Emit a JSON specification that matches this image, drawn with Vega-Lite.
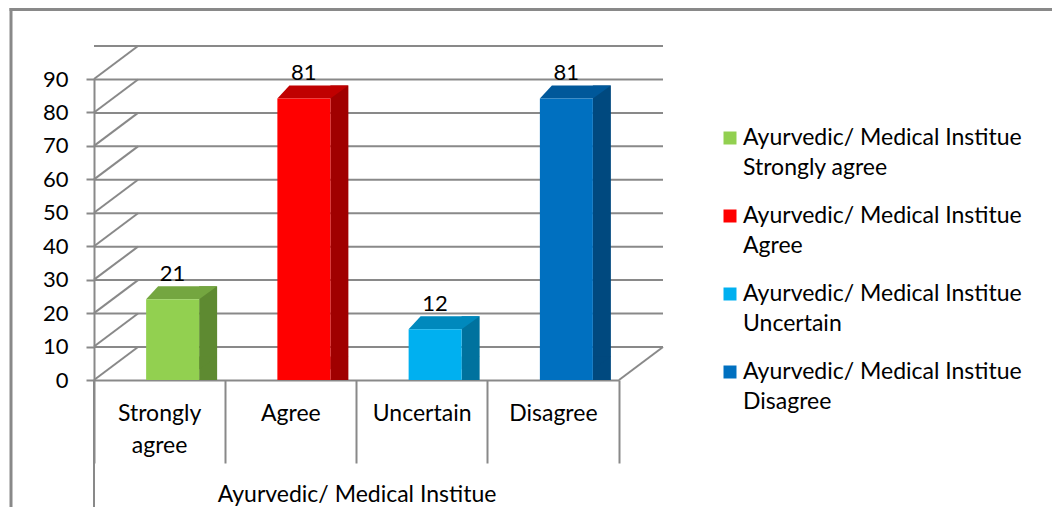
{
  "$schema": "https://vega.github.io/schema/vega-lite/v6.json",
  "width": 525,
  "height": 301,
  "autosize": {"type": "none"},
  "padding": {"left": 94, "top": 79, "right": 433, "bottom": 127},
  "background": "white",
  "config": {
    "view": {"stroke": null},
    "font": "Lato",
    "style": {"guide-label": {"lineHeight": 30}},
    "axisX": {
      "labelAngle": 0, "labelAlign": "center", "labelBaseline": "top",
      "labelFont": "Lato", "labelFontSize": 23, "labelColor": "black",
      "labelLineHeight": 32, "labelPadding": -61,
      "bandPosition": 1, "tickExtra": true, "tickSize": 83,
      "tickColor": "#898989", "tickWidth": 2,
      "domainColor": "#898989", "domainWidth": 2, "grid": false,
      "titleFont": "Lato", "titleFontSize": 23, "titleFontWeight": "normal", "titleColor": "black"
    },
    "axisY": {
      "grid": false,
      "domainColor": "#898989", "domainWidth": 2,
      "tickColor": "#898989", "tickWidth": 2, "tickSize": 8,
      "labelFont": "Lato", "labelFontSize": 22, "labelColor": "black",
      "labelPadding": 18, "labelFlush": false, "labelOverlap": false
    }
  },
  "datasets": {
    "responses": [
      {"category": "Strongly agree", "count": 21},
      {"category": "Agree", "count": 81},
      {"category": "Uncertain", "count": 12},
      {"category": "Disagree", "count": 81}
    ],
    "ticks": [
      {"tick": 0}, {"tick": 10}, {"tick": 20}, {"tick": 30}, {"tick": 40},
      {"tick": 50}, {"tick": 60}, {"tick": 70}, {"tick": 80}, {"tick": 90}
    ]
  },
  "layer": [
    {
      "data": {"values": [{}]},
      "mark": {"type": "rule", "color": "#898989", "strokeWidth": 3, "yOffset": -69.5, "xOffset": -84.5, "x2Offset": 600},
      "encoding": {
        "x": {"datum": "Strongly agree", "type": "nominal", "bandPosition": 0, "scale": {"domain": ["Strongly agree", "Agree", "Uncertain", "Disagree"], "paddingInner": 0, "paddingOuter": 0}, "axis": {"title": "Ayurvedic/ Medical Institue", "titleY": 114, "titleBaseline": "middle", "labelExpr": "datum.label == 'Strongly agree' ? ['Strongly', 'agree'] : datum.label"}},
        "x2": {"datum": "Disagree"},
        "y": {"datum": 90, "type": "quantitative", "scale": {"domain": [0, 90], "nice": false}, "axis": {"values": [0, 10, 20, 30, 40, 50, 60, 70, 80, 90], "title": null}}
      }
    },
    {
      "data": {"values": [{}]},
      "mark": {"type": "rule", "color": "#898989", "strokeWidth": 3, "xOffset": -83, "yOffset": -71, "y2Offset": 200},
      "encoding": {
        "x": {"datum": "Strongly agree", "type": "nominal", "bandPosition": 0, "scale": {"domain": ["Strongly agree", "Agree", "Uncertain", "Disagree"], "paddingInner": 0, "paddingOuter": 0}, "axis": {"title": "Ayurvedic/ Medical Institue", "titleY": 114, "titleBaseline": "middle", "labelExpr": "datum.label == 'Strongly agree' ? ['Strongly', 'agree'] : datum.label"}},
        "y": {"datum": 90, "type": "quantitative", "scale": {"domain": [0, 90], "nice": false}, "axis": {"values": [0, 10, 20, 30, 40, 50, 60, 70, 80, 90], "title": null}},
        "y2": {"datum": 0}
      }
    },
    {
      "data": {"name": "ticks"},
      "mark": {"type": "rule", "color": "#898989", "strokeWidth": 2, "xOffset": 44, "x2Offset": 44, "yOffset": -33, "y2Offset": -33},
      "encoding": {
        "y": {"field": "tick", "type": "quantitative", "scale": {"domain": [0, 90], "nice": false}, "axis": {"values": [0, 10, 20, 30, 40, 50, 60, 70, 80, 90], "title": null}}
      }
    },
    {
      "data": {"name": "ticks"},
      "mark": {"type": "point", "shape": "M0,0 L44,-33", "size": 4, "filled": false, "stroke": "#898989", "strokeWidth": 2, "opacity": 1},
      "encoding": {
        "x": {"datum": "Strongly agree", "type": "nominal", "bandPosition": 0, "scale": {"domain": ["Strongly agree", "Agree", "Uncertain", "Disagree"], "paddingInner": 0, "paddingOuter": 0}, "axis": {"title": "Ayurvedic/ Medical Institue", "titleY": 114, "titleBaseline": "middle", "labelExpr": "datum.label == 'Strongly agree' ? ['Strongly', 'agree'] : datum.label"}},
        "y": {"field": "tick", "type": "quantitative", "scale": {"domain": [0, 90], "nice": false}, "axis": {"values": [0, 10, 20, 30, 40, 50, 60, 70, 80, 90], "title": null}}
      }
    },
    {
      "data": {"values": [{}]},
      "mark": {"type": "point", "shape": "M0,0 L44,-33", "size": 4, "filled": false, "stroke": "#898989", "strokeWidth": 2, "opacity": 1},
      "encoding": {
        "x": {"datum": "Disagree", "type": "nominal", "bandPosition": 1, "scale": {"domain": ["Strongly agree", "Agree", "Uncertain", "Disagree"], "paddingInner": 0, "paddingOuter": 0}, "axis": {"title": "Ayurvedic/ Medical Institue", "titleY": 114, "titleBaseline": "middle", "labelExpr": "datum.label == 'Strongly agree' ? ['Strongly', 'agree'] : datum.label"}},
        "y": {"datum": 0, "type": "quantitative", "scale": {"domain": [0, 90], "nice": false}, "axis": {"values": [0, 10, 20, 30, 40, 50, 60, 70, 80, 90], "title": null}}
      }
    },
    {
      "data": {"values": [{}]},
      "mark": {"type": "rule", "color": "#898989", "strokeWidth": 2, "y2Offset": 200},
      "encoding": {
        "x": {"datum": "Strongly agree", "type": "nominal", "bandPosition": 0, "scale": {"domain": ["Strongly agree", "Agree", "Uncertain", "Disagree"], "paddingInner": 0, "paddingOuter": 0}, "axis": {"title": "Ayurvedic/ Medical Institue", "titleY": 114, "titleBaseline": "middle", "labelExpr": "datum.label == 'Strongly agree' ? ['Strongly', 'agree'] : datum.label"}},
        "y": {"datum": 0, "type": "quantitative", "scale": {"domain": [0, 90], "nice": false}, "axis": {"values": [0, 10, 20, 30, 40, 50, 60, 70, 80, 90], "title": null}},
        "y2": {"datum": 0}
      }
    },
    {
      "data": {"name": "responses"},
      "mark": {"type": "bar", "size": 18, "xOffset": 48.5, "yOffset": -23.5, "y2Offset": -23.5, "opacity": 1},
      "encoding": {
        "x": {"field": "category", "type": "nominal", "scale": {"domain": ["Strongly agree", "Agree", "Uncertain", "Disagree"], "paddingInner": 0, "paddingOuter": 0}, "axis": {"title": "Ayurvedic/ Medical Institue", "titleY": 114, "titleBaseline": "middle", "labelExpr": "datum.label == 'Strongly agree' ? ['Strongly', 'agree'] : datum.label"}},
        "y": {"field": "count", "type": "quantitative", "stack": null, "scale": {"domain": [0, 90], "nice": false}, "axis": {"values": [0, 10, 20, 30, 40, 50, 60, 70, 80, 90], "title": null}},
        "color": {
          "field": "category", "type": "nominal",
          "scale": {"domain": ["Strongly agree", "Agree", "Uncertain", "Disagree"], "range": ["#5E8A31", "#A00000", "#00729E", "#00497F"]},
          "legend": null
        }
      }
    },
    {
      "data": {"name": "responses"},
      "mark": {"type": "point", "shape": "M39.5,-23.5 L39.5,-10.5 L57.5,-23.5 Z", "size": 4, "filled": true, "strokeWidth": 0, "opacity": 1},
      "encoding": {
        "x": {"field": "category", "type": "nominal", "scale": {"domain": ["Strongly agree", "Agree", "Uncertain", "Disagree"], "paddingInner": 0, "paddingOuter": 0}, "axis": {"title": "Ayurvedic/ Medical Institue", "titleY": 114, "titleBaseline": "middle", "labelExpr": "datum.label == 'Strongly agree' ? ['Strongly', 'agree'] : datum.label"}},
        "y": {"datum": 0, "type": "quantitative", "scale": {"domain": [0, 90], "nice": false}, "axis": {"values": [0, 10, 20, 30, 40, 50, 60, 70, 80, 90], "title": null}},
        "color": {
          "field": "category", "type": "nominal",
          "scale": {"domain": ["Strongly agree", "Agree", "Uncertain", "Disagree"], "range": ["#5E8A31", "#A00000", "#00729E", "#00497F"]},
          "legend": null
        }
      }
    },
    {
      "data": {"name": "responses"},
      "mark": {"type": "point", "shape": "M-13.5,-10.5 L39.5,-10.5 L57.5,-23.5 L-1.5,-23.5 Z", "size": 4, "filled": true, "strokeWidth": 0, "opacity": 1},
      "encoding": {
        "x": {"field": "category", "type": "nominal", "scale": {"domain": ["Strongly agree", "Agree", "Uncertain", "Disagree"], "paddingInner": 0, "paddingOuter": 0}, "axis": {"title": "Ayurvedic/ Medical Institue", "titleY": 114, "titleBaseline": "middle", "labelExpr": "datum.label == 'Strongly agree' ? ['Strongly', 'agree'] : datum.label"}},
        "y": {"field": "count", "type": "quantitative", "scale": {"domain": [0, 90], "nice": false}, "axis": {"values": [0, 10, 20, 30, 40, 50, 60, 70, 80, 90], "title": null}},
        "color": {
          "field": "category", "type": "nominal",
          "scale": {"domain": ["Strongly agree", "Agree", "Uncertain", "Disagree"], "range": ["#74A640", "#C00000", "#0089BD", "#00589A"]},
          "legend": null
        }
      }
    },
    {
      "data": {"name": "responses"},
      "mark": {"type": "bar", "size": 53, "xOffset": 13, "yOffset": -10.5, "y2Offset": -10.5, "opacity": 1},
      "encoding": {
        "x": {"field": "category", "type": "nominal", "scale": {"domain": ["Strongly agree", "Agree", "Uncertain", "Disagree"], "paddingInner": 0, "paddingOuter": 0}, "axis": {"title": "Ayurvedic/ Medical Institue", "titleY": 114, "titleBaseline": "middle", "labelExpr": "datum.label == 'Strongly agree' ? ['Strongly', 'agree'] : datum.label"}},
        "y": {"field": "count", "type": "quantitative", "stack": null, "scale": {"domain": [0, 90], "nice": false}, "axis": {"values": [0, 10, 20, 30, 40, 50, 60, 70, 80, 90], "title": null}},
        "color": {
          "field": "category", "type": "nominal",
          "scale": {"domain": ["Strongly agree", "Agree", "Uncertain", "Disagree"], "range": ["#92D050", "#FF0000", "#00B0F0", "#0070C0"]},
          "legend": {
            "orient": "none", "legendX": 618, "legendY": 47.5, "title": null, "padding": 0,
            "symbolType": "M0,-6.5 H13 V6.5 H0 Z", "symbolSize": 4, "symbolStrokeWidth": 0,
            "labelFont": "Lato", "labelFontSize": 23, "labelColor": "black", "labelLimit": 500,
            "labelOffset": 8, "rowPadding": 24,
            "labelExpr": "['Ayurvedic/ Medical Institue', datum.label]"
          }
        }
      }
    },
    {
      "data": {"name": "responses"},
      "mark": {"type": "text", "dx": 13, "dy": -29, "baseline": "alphabetic", "align": "center", "font": "Lato", "fontSize": 22, "color": "black"},
      "encoding": {
        "x": {"field": "category", "type": "nominal", "scale": {"domain": ["Strongly agree", "Agree", "Uncertain", "Disagree"], "paddingInner": 0, "paddingOuter": 0}, "axis": {"title": "Ayurvedic/ Medical Institue", "titleY": 114, "titleBaseline": "middle", "labelExpr": "datum.label == 'Strongly agree' ? ['Strongly', 'agree'] : datum.label"}},
        "y": {"field": "count", "type": "quantitative", "scale": {"domain": [0, 90], "nice": false}, "axis": {"values": [0, 10, 20, 30, 40, 50, 60, 70, 80, 90], "title": null}},
        "text": {"field": "count", "type": "quantitative"}
      }
    }
  ],
  "resolve": {"scale": {"color": "independent"}}
}
